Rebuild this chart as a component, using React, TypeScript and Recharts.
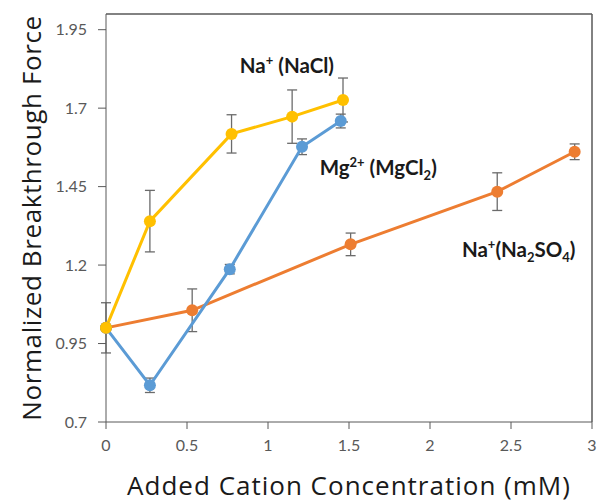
import React from "react";
import { LineChart, Line, XAxis, YAxis, ErrorBar, ReferenceLine, ReferenceDot } from "recharts";

// Na+ (NaCl)
const naclX = [0, 0.271, 0.775, 1.149, 1.463];
const naclY = [1.0, 1.34, 1.618, 1.673, 1.726];
const naclErr = [0.08, 0.098, 0.061, 0.085, 0.07];

// Mg2+ (MgCl2)
const mgX = [0, 0.271, 0.764, 1.21, 1.449];
const mgY = [1.0, 0.817, 1.187, 1.577, 1.659];
const mgErr = [0, 0.023, 0.015, 0.025, 0.022];

// Na+ (Na2SO4)
const so4X = [0, 0.532, 1.51, 2.415, 2.893];
const so4Y = [1.0, 1.056, 1.266, 1.434, 1.561];
const so4Err = [0, 0.068, 0.036, 0.06, 0.025];

const xTicks = [0, 0.5, 1, 1.5, 2, 2.5, 3];
const yTicks = [0.7, 0.95, 1.2, 1.45, 1.7, 1.95];

const toRows = (xs: number[], ys: number[], errs: number[]) =>
  xs.map((x, i) => ({ x, y: ys[i], err: errs[i] }));

const naclData = toRows(naclX, naclY, naclErr);
const mgData = toRows(mgX, mgY, mgErr);
const so4Data = toRows(so4X, so4Y, so4Err);

const FONT = "Lato, 'Open Sans', sans-serif";
const TITLE_FONT = "'Open Sans', sans-serif";
const AXIS = "#595959";

const Note = ({ cx, cy, children }: any) => (
  <text x={cx} y={cy} fontFamily={FONT} fontWeight="bold" fontSize={20.5} fill="#1a1a1a">
    {children}
  </text>
);

const Sup = ({ children }: any) => (
  <tspan fontSize={13} dy={-8}>{children}</tspan>
);
const Sub = ({ children }: any) => (
  <tspan fontSize={13} dy={5}>{children}</tspan>
);

export default function App() {
  return (
    <div style={{ position: "absolute", left: 0, top: 0 }}>
      <LineChart width={597} height={504} margin={{ top: 14, right: 5, bottom: 0, left: 0 }}>
        <XAxis
          type="number"
          dataKey="x"
          domain={[0, 3]}
          ticks={xTicks}
          allowDuplicatedCategory={false}
          height={82}
          stroke={AXIS}
          tickSize={7}
          tickMargin={11}
          tick={{ fontFamily: FONT, fontSize: 16, fill: AXIS }}
          label={{
            value: "Added Cation Concentration (mM)",
            position: "insideBottom",
            offset: 9,
            style: { fontFamily: TITLE_FONT, fontSize: 26, letterSpacing: 1, fill: "#1a1a1a" },
          }}
        />
        <YAxis
          type="number"
          domain={[0.7, 2.0]}
          ticks={yTicks}
          width={106}
          stroke={AXIS}
          tickSize={8}
          tickMargin={11}
          tick={{ fontFamily: FONT, fontSize: 16, fill: AXIS }}
          label={{
            value: "Normalized Breakthrough Force",
            angle: -90,
            position: "insideLeft",
            offset: 32,
            style: { fontFamily: TITLE_FONT, fontSize: 26, letterSpacing: 0.6, fill: "#1a1a1a", textAnchor: "middle" },
          }}
        />
        <ReferenceLine y={2.0} stroke={AXIS} strokeWidth={1.5} />
        <ReferenceLine x={3} stroke={AXIS} strokeWidth={1.5} />

        <Line
          data={so4Data}
          dataKey="y"
          stroke="#ED7D31"
          strokeWidth={3}
          dot={{ r: 6, fill: "#ED7D31", stroke: "none" }}
          activeDot={false}
          isAnimationActive={false}
        >
          <ErrorBar dataKey="err" direction="y" width={5} stroke="#6b6b6b" strokeWidth={1.3} />
        </Line>
        <Line
          data={mgData}
          dataKey="y"
          stroke="#5B9BD5"
          strokeWidth={3}
          dot={{ r: 6, fill: "#5B9BD5", stroke: "none" }}
          activeDot={false}
          isAnimationActive={false}
        >
          <ErrorBar dataKey="err" direction="y" width={5} stroke="#6b6b6b" strokeWidth={1.3} />
        </Line>
        <Line
          data={naclData}
          dataKey="y"
          stroke="#FFC000"
          strokeWidth={3}
          dot={{ r: 6, fill: "#FFC000", stroke: "none" }}
          activeDot={false}
          isAnimationActive={false}
        >
          <ErrorBar dataKey="err" direction="y" width={5} stroke="#6b6b6b" strokeWidth={1.3} />
        </Line>

        <ReferenceDot
          x={0.826}
          y={1.813}
          r={0}
          ifOverflow="visible"
          shape={(p: any) => (
            <Note cx={p.cx} cy={p.cy}>
              Na<Sup>+</Sup>
              <tspan dy={8}> (NaCl)</tspan>
            </Note>
          )}
        />
        <ReferenceDot
          x={1.319}
          y={1.487}
          r={0}
          ifOverflow="visible"
          shape={(p: any) => (
            <Note cx={p.cx} cy={p.cy}>
              Mg<Sup>2+</Sup>
              <tspan dy={8}> (MgCl</tspan>
              <Sub>2</Sub>
              <tspan dy={-5}>)</tspan>
            </Note>
          )}
        />
        <ReferenceDot
          x={2.197}
          y={1.226}
          r={0}
          ifOverflow="visible"
          shape={(p: any) => (
            <Note cx={p.cx} cy={p.cy}>
              Na<Sup>+</Sup>
              <tspan dy={8}>(Na</tspan>
              <Sub>2</Sub>
              <tspan dy={-5}>SO</tspan>
              <Sub>4</Sub>
              <tspan dy={-5}>)</tspan>
            </Note>
          )}
        />
      </LineChart>
    </div>
  );
}
